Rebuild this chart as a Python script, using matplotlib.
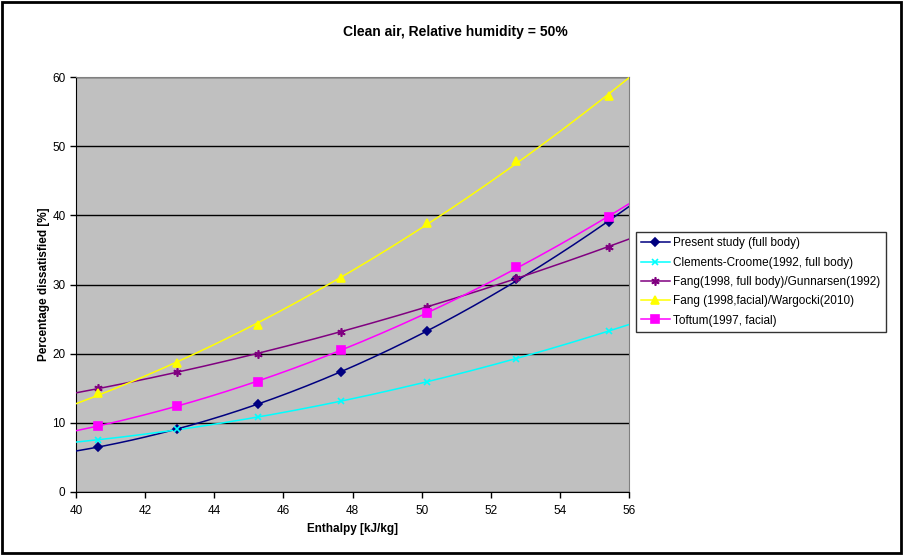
import numpy as np
import matplotlib
matplotlib.use("Agg")
import matplotlib.pyplot as plt
from matplotlib.patches import Rectangle

plt.rcParams['font.family'] = ['Liberation Sans', 'DejaVu Sans']

enthalpy = [40.64, 42.92, 45.27, 47.67, 50.16, 52.73, 55.42]
present = [6.55, 9.1, 12.68, 17.3, 23.28, 30.75, 39.08]
clements = [7.5, 9.06, 10.9, 13.1, 15.9, 19.3, 23.3]
fang_full = [14.98, 17.3, 20.0, 23.2, 26.8, 30.9, 35.47]
fang_facial = [14.27, 18.6, 24.14, 30.99, 38.93, 47.9, 57.25]
toftum = [9.59, 12.43, 15.95, 20.48, 25.93, 32.48, 39.8]

labels = ["Present study (full body)", "Clements-Croome(1992, full body)",
          "Fang(1998, full body)/Gunnarsen(1992)", "Fang (1998,facial)/Wargocki(2010)",
          "Toftum(1997, facial)"]
series = [present, clements, fang_full, fang_facial, toftum]
colors = ["#000080", "#00FFFF", "#800080", "#FFFF00", "#FF00FF"]
markers = ["D", "x", (6, 2, 0), "^", "s"]
msizes = [4.2, 5, 6, 5.8, 5.5]

fig = plt.figure(figsize=(9.05, 5.55), dpi=100)
ax = fig.add_axes([76/905, 1-492/555, (629-76)/905, (492-77)/555])
ax.set_facecolor("#C0C0C0")

xs = np.linspace(40, 56, 200)
for vals, c, m, ms, lab in zip(series, colors, markers, msizes, labels):
    coef = np.polyfit(enthalpy, vals, 2)
    ax.plot(xs, np.polyval(coef, xs), color=c, lw=1.1, zorder=3)
    ax.plot(enthalpy, vals, linestyle='none', marker=m, color=c, ms=ms,
            mew=1.2, zorder=4)
    ax.plot([], [], color=c, marker=m, ms=ms, mew=1.2, lw=1.1, label=lab)

ax.set_xlim(40, 56)
ax.set_ylim(0, 60)
ax.set_xticks(np.arange(40, 57, 2))
ax.set_yticks(np.arange(0, 61, 10))
ax.yaxis.grid(True, color="black", lw=1)
ax.set_axisbelow(True)
for s in ["top", "right"]:
    ax.spines[s].set_color("#808080")
for s in ["left", "bottom"]:
    ax.spines[s].set_color("black")
ax.tick_params(direction="out", length=4, width=1, labelsize=8.5, color="black")
ax.tick_params(axis="x", pad=5)

ax.set_xlabel("Enthalpy [kJ/kg]", fontsize=8.5, fontweight="bold", labelpad=5)
ax.set_ylabel("Percentage dissatisfied [%]", fontsize=8.5, fontweight="bold", labelpad=1.5)
fig.text(455/905, 1 - 32/555, "Clean air, Relative humidity = 50%",
         ha="center", va="center", fontsize=10, fontweight="bold")

leg = fig.legend(loc="upper left", bbox_to_anchor=(636/905, 1 - 232/555),
                 fontsize=8.5, frameon=True, fancybox=False, borderpad=0.45,
                 borderaxespad=0, handlelength=2.4, labelspacing=0.62,
                 handletextpad=0.3)
leg.get_frame().set_edgecolor("black")
leg.get_frame().set_linewidth(1)

fig.patches.append(Rectangle((0.002, 0.003), 0.994, 0.993, transform=fig.transFigure,
                             fill=False, edgecolor="black", lw=2))

fig.savefig("out.png", dpi=100)
